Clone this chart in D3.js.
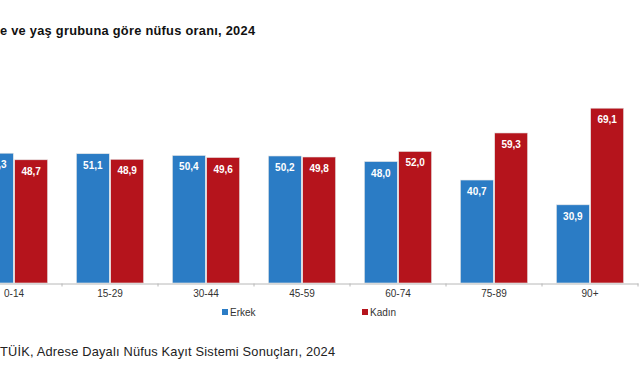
<!DOCTYPE html>
<html><head><meta charset="utf-8">
<script src="https://cdn.jsdelivr.net/npm/d3@7"></script>
<style>body{margin:0;background:#fff}svg{display:block}</style>
</head><body>
<svg id="c" width="641" height="380"></svg>
<script>
const categories = ["0-14","15-29","30-44","45-59","60-74","75-89","90+"];
const series = ["Erkek","Kadın"];
const erkek = [51.3,51.1,50.4,50.2,48.0,40.7,30.9];
const kadin = [48.7,48.9,49.6,49.8,52.0,59.3,69.1];
const titleText = "e ve yaş grubuna göre nüfus oranı, 2024";
const sourceText = "TÜİK, Adrese Dayalı Nüfus Kayıt Sistemi Sonuçları, 2024";

const colors = {"Erkek":"#2b7cc5","Kadın":"#b5141c"};
const values = {"Erkek":erkek,"Kadın":kadin};
const svg = d3.select("#c");
const font = "Liberation Sans, Arial, sans-serif";

const x0 = d3.scaleBand().domain(categories).range([-34,638]).paddingInner(0.3).paddingOuter(0.15);
const x1 = d3.scaleBand().domain(series).range([0,x0.bandwidth()]).paddingInner(0.04);
const y = d3.scaleLinear().domain([0,80]).range([283,80.6]);
const fmt = v => d3.format(".1f")(v).replace(".",",");

svg.append("text").attr("x",0).attr("y",35).attr("font-family",font).attr("font-weight","bold")
  .attr("font-size",12.8).attr("textLength",255).attr("lengthAdjust","spacing")
  .attr("fill","#111").text(titleText);

const g = svg.append("g");
categories.forEach((c,i)=>{
  series.forEach(s=>{
    const v = values[s][i];
    const bx = x0(c)+x1(s);
    g.append("rect").attr("x",bx).attr("y",y(v)).attr("width",x1.bandwidth()).attr("height",y(0)-y(v))
      .attr("fill",colors[s]).attr("stroke","#e6e6e6").attr("stroke-width",0.6);
    g.append("text").attr("x",bx+x1.bandwidth()/2).attr("y",y(v)+15).attr("text-anchor","middle")
      .attr("font-family",font).attr("font-weight","bold").attr("font-size",10).attr("fill","#fff").text(fmt(v));
  });
});

// axis
const axis = d3.axisBottom(x0).tickSize(0).tickPadding(6);
const ag = svg.append("g").attr("transform","translate(0,283.5)").call(axis);
ag.select(".domain").attr("stroke","#b8b8b8");
ag.selectAll("text").attr("font-family",font).attr("font-size",10).attr("fill","#333");
// tick marks between groups
const bounds = categories.map(c=>x0(c)+x0.bandwidth()+x0.step()*x0.paddingInner()/2);
ag.selectAll("line.sep").data(bounds).enter().append("line").attr("class","sep")
  .attr("x1",d=>d).attr("x2",d=>d).attr("y1",0).attr("y2",3).attr("stroke","#b8b8b8");

// legend
const legX = {"Erkek":222,"Kadın":362};
series.forEach(s=>{
  svg.append("rect").attr("x",legX[s]).attr("y",309).attr("width",6).attr("height",6).attr("fill",colors[s]);
  svg.append("text").attr("x",legX[s]+8).attr("y",316).attr("font-family",font).attr("font-size",10)
    .attr("fill","#333").text(s);
});

svg.append("text").attr("x",0).attr("y",356).attr("font-family",font).attr("font-size",12.8)
  .attr("textLength",335).attr("lengthAdjust","spacing")
  .attr("fill","#222").text(sourceText);
</script>
</body></html>
